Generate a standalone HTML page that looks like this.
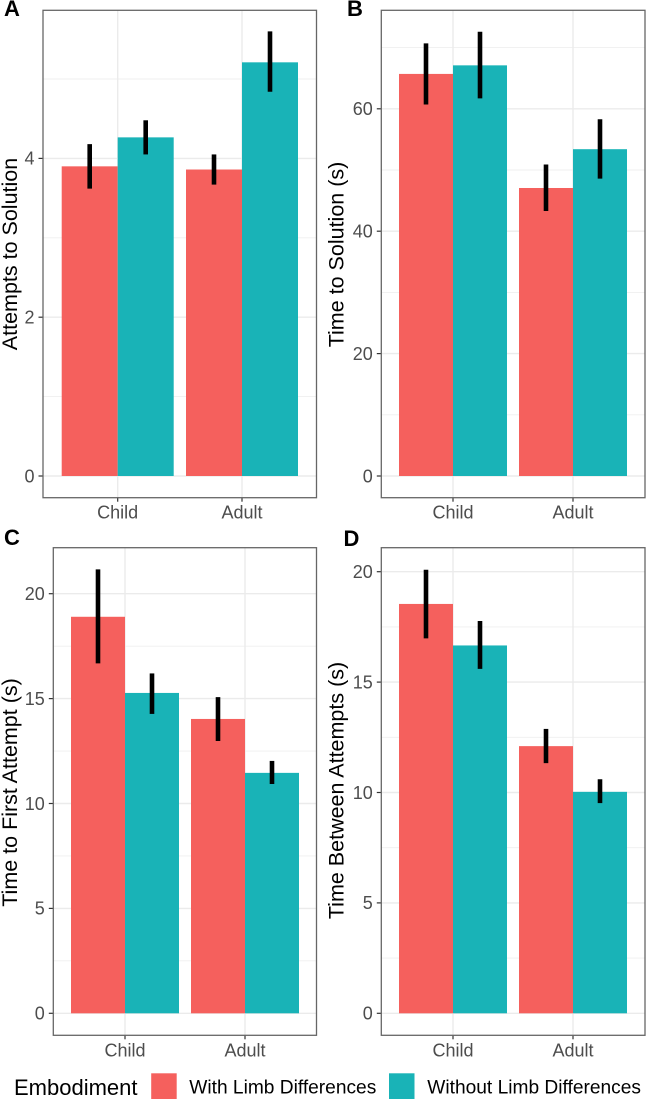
<!DOCTYPE html>
<html lang="en">
<head>
<meta charset="utf-8">
<title>Embodiment bar charts</title>
<style>
html,body{margin:0;padding:0;background:#fff;width:646px;height:1099px;overflow:hidden}
svg{display:block;font-family:"Liberation Sans",sans-serif}
</style>
</head>
<body>
<svg id="chart" xmlns="http://www.w3.org/2000/svg" width="646" height="1099" viewBox="0 0 646 1099"></svg>
<script>
// Shared data
const categories = ["Child", "Adult"];
const seriesNames = ["With Limb Differences", "Without Limb Differences"];

// Panel A
const attemptsMeans = [[3.90, 3.86], [4.265, 5.21]];
const attemptsLow = [[3.62, 3.67], [4.05, 4.84]];
const attemptsHigh = [[4.18, 4.05], [4.48, 5.60]];
const attemptsMajorTicks = [0, 2, 4];
const attemptsMinorTicks = [1, 3, 5];

// Panel B
const solutionMeans = [[65.7, 47.06], [67.1, 53.4]];
const solutionLow = [[60.7, 43.3], [61.7, 48.6]];
const solutionHigh = [[70.7, 50.9], [72.6, 58.3]];
const solutionMajorTicks = [0, 20, 40, 60];
const solutionMinorTicks = [10, 30, 50, 70];

// Panel C
const firstAttemptMeans = [[18.9, 14.03], [15.27, 11.46]];
const firstAttemptLow = [[16.68, 12.98], [14.27, 10.93]];
const firstAttemptHigh = [[21.16, 15.07], [16.2, 12.03]];
const firstAttemptMajorTicks = [0, 5, 10, 15, 20];
const firstAttemptMinorTicks = [2.5, 7.5, 12.5, 17.5];

// Panel D
const betweenMeans = [[18.54, 12.1], [16.66, 10.03]];
const betweenLow = [[16.98, 11.33], [15.6, 9.52]];
const betweenHigh = [[20.09, 12.88], [17.77, 10.6]];
const betweenMajorTicks = [0, 5, 10, 15, 20];
const betweenMinorTicks = [2.5, 7.5, 12.5, 17.5];

const colors = ["#f5605d", "#19b3b7"];
const svg = document.getElementById("chart");
const NS = "http://www.w3.org/2000/svg";

function make(tag, attrs, parent, text) {
  const el = document.createElementNS(NS, tag);
  for (const k in attrs) el.setAttribute(k, attrs[k]);
  if (text !== undefined) el.textContent = text;
  parent.appendChild(el);
  return el;
}

const panels = [
  {key:"a", letter:"A", lx:4, ly:16, title:"Attempts to Solution", titleX:17, titleY:254, left:43, right:316.5, top:10.3, bottom:497.7,
   zeroY:476, unit:79.4, cx:[117.7, 242], halfBar:56, means:attemptsMeans, low:attemptsLow, high:attemptsHigh, major:attemptsMajorTicks, minor:attemptsMinorTicks},
  {key:"b", letter:"B", lx:347, ly:16, title:"Time to Solution (s)", titleX:343.7, titleY:254.5, left:381.3, right:645, top:10.3, bottom:497.7,
   zeroY:476, unit:6.12, cx:[453, 573], halfBar:54, means:solutionMeans, low:solutionLow, high:solutionHigh, major:solutionMajorTicks, minor:solutionMinorTicks},
  {key:"c", letter:"C", lx:4, ly:545, title:"Time to First Attempt (s)", titleX:17, titleY:792.5, left:53.3, right:316.5, top:547.7, bottom:1035.3,
   zeroY:1013.3, unit:20.98, cx:[125, 245], halfBar:54, means:firstAttemptMeans, low:firstAttemptLow, high:firstAttemptHigh, major:firstAttemptMajorTicks, minor:firstAttemptMinorTicks},
  {key:"d", letter:"D", lx:343.5, ly:546, title:"Time Between Attempts (s)", titleX:343.7, titleY:790.5, left:381.3, right:645, top:547.7, bottom:1035.3,
   zeroY:1013.3, unit:22.08, cx:[453, 573], halfBar:54, means:betweenMeans, low:betweenLow, high:betweenHigh, major:betweenMajorTicks, minor:betweenMinorTicks}
];

panels.forEach(function (p) {
  const y = function (v) { return p.zeroY - v * p.unit; };
  const g = make("g", {}, svg);
  
  

  p.minor.forEach(function (v) {
    const line = make("line", {x1:p.left, x2:p.right, y1:y(v), y2:y(v), stroke:"#efefef", "stroke-width":0.9}, g);
    
    
  });
  p.major.forEach(function (v) {
    const line = make("line", {x1:p.left, x2:p.right, y1:y(v), y2:y(v), stroke:"#ebebeb", "stroke-width":1.4}, g);
    
    
    const tick = make("line", {x1:p.left - 4.5, x2:p.left, y1:y(v), y2:y(v), stroke:"#333", "stroke-width":1.2}, g);
    
    
    const label = make("text", {x:p.left - 8.5, y:y(v) + 6.3, "text-anchor":"end", "font-size":18, fill:"#4d4d4d"}, g, String(v));
    
    
  });

  categories.forEach(function (cat, i) {
    const cx = p.cx[i];
    const line = make("line", {x1:cx, x2:cx, y1:p.top, y2:p.bottom, stroke:"#ebebeb", "stroke-width":1.4}, g);
    
    
    const tick = make("line", {x1:cx, x2:cx, y1:p.bottom, y2:p.bottom + 4, stroke:"#333", "stroke-width":1.2}, g);
    
    
    const label = make("text", {x:cx, y:p.bottom + 21, "text-anchor":"middle", "font-size":18, fill:"#4d4d4d"}, g, cat);
    
    
  });

  seriesNames.forEach(function (name, s) {
    categories.forEach(function (cat, i) {
      const x0 = s === 0 ? p.cx[i] - p.halfBar : p.cx[i];
      const bar = make("rect", {x:x0, y:y(p.means[s][i]), width:p.halfBar, height:p.zeroY - y(p.means[s][i]), fill:colors[s]}, g);
      
      
    });
  });
  seriesNames.forEach(function (name, s) {
    categories.forEach(function (cat, i) {
      const xm = p.cx[i] + (s === 0 ? -0.5 : 0.5) * p.halfBar;
      const err = make("line", {x1:xm, x2:xm, y1:y(p.high[s][i]), y2:y(p.low[s][i]), stroke:"#000", "stroke-width":4.6}, g);
      
      
    });
  });

  const frame = make("rect", {x:p.left, y:p.top, width:p.right - p.left, height:p.bottom - p.top, fill:"none", stroke:"#666", "stroke-width":1.3}, g);
  
  

  const title = make("text", {x:p.titleX, y:p.titleY, transform:"rotate(-90 " + p.titleX + " " + p.titleY + ")", "text-anchor":"middle", "font-size":21.5, fill:"#000"}, g, p.title);
  
  

  const letter = make("text", {x:p.lx, y:p.ly, "font-size":22, "font-weight":"bold", fill:"#000"}, g, p.letter);
  
  
});

const legend = make("g", {}, svg);



const legendTitle = make("text", {x:14, y:1095, "font-size":22, fill:"#000"}, legend, "Embodiment");



const swatchXs = [151.2, 389];
const labelXs = [189.3, 427.3];
const labelLengths = [187, 213.7];
seriesNames.forEach(function (name, s) {
  const swatch = make("rect", {x:swatchXs[s], y:1073.3, width:25.5, height:26, fill:colors[s]}, legend);
  
  
  const label = make("text", {x:labelXs[s], y:1093.5, "font-size":19.3, textLength:labelLengths[s], lengthAdjust:"spacingAndGlyphs", fill:"#000"}, legend, name);
  
  
});
</script>
</body>
</html>
